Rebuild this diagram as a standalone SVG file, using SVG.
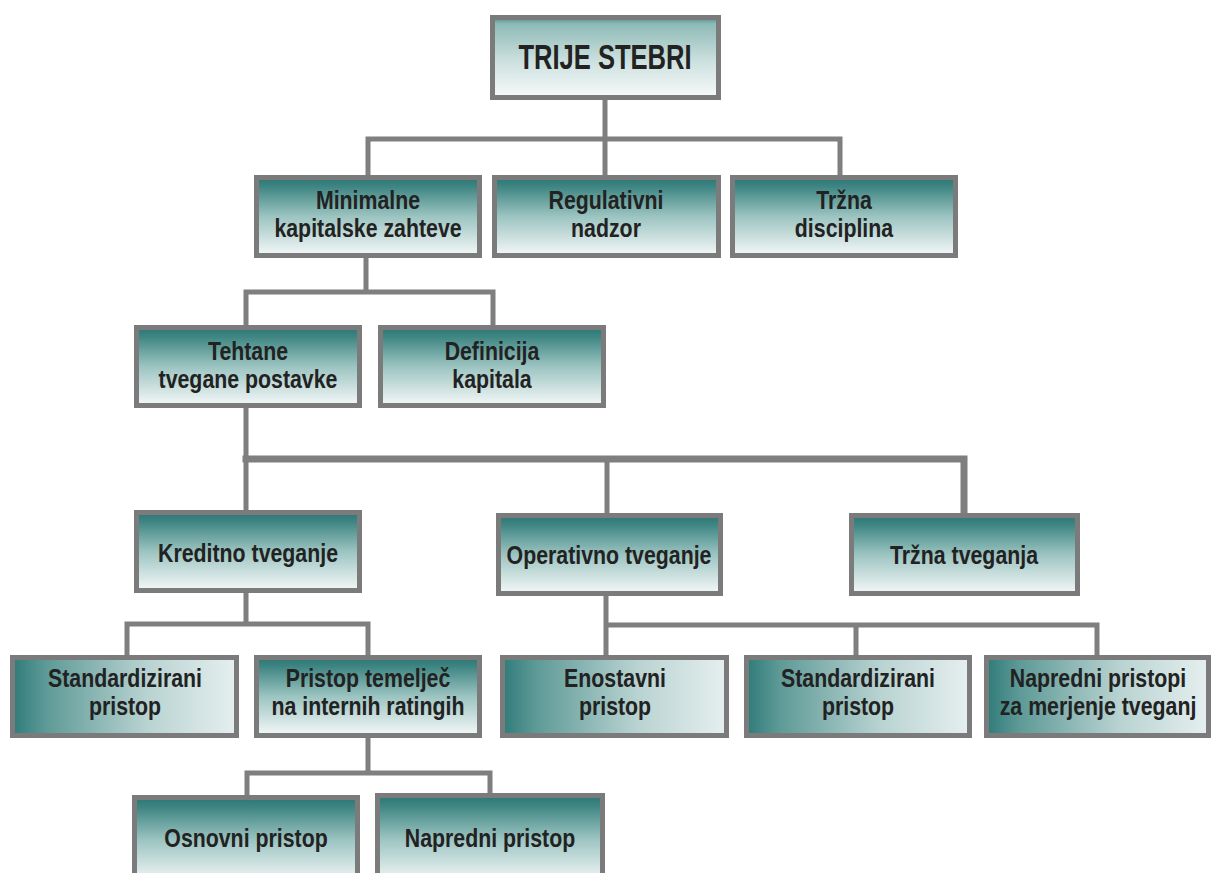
<svg xmlns="http://www.w3.org/2000/svg" width="1213" height="873" viewBox="0 0 1213 873">
<defs>
<linearGradient id="gv" x1="0" y1="0" x2="0" y2="1">
<stop offset="0" stop-color="#2c7673"/>
<stop offset="0.12" stop-color="#3f8683"/>
<stop offset="0.5" stop-color="#9cc4c1"/>
<stop offset="1" stop-color="#f4f8f8"/>
</linearGradient>
<linearGradient id="gt" x1="0" y1="0" x2="0" y2="1">
<stop offset="0" stop-color="#4f8e8a"/>
<stop offset="0.08" stop-color="#8dbab6"/>
<stop offset="0.55" stop-color="#cde1df"/>
<stop offset="1" stop-color="#f7fafa"/>
</linearGradient>
<linearGradient id="gh" x1="0" y1="0" x2="1" y2="0">
<stop offset="0" stop-color="#2f7b79"/>
<stop offset="0.15" stop-color="#5e9a97"/>
<stop offset="0.6" stop-color="#b8d3d1"/>
<stop offset="1" stop-color="#e6efef"/>
</linearGradient>
<style>
.b{stroke:#7b7b7b;stroke-width:5}
.v{fill:url(#gv)}
.h{fill:url(#gh)}
.t{fill:url(#gt)}
.c{fill:none;stroke:#7f7f7f;stroke-width:5;stroke-linejoin:miter;stroke-linecap:square}
text{font-family:"Liberation Sans",Arial,sans-serif;font-weight:bold;fill:#222;text-anchor:middle;font-size:26px}
.big{font-size:35px}
</style>
</defs>
<rect width="1213" height="873" fill="#ffffff"/>
<g id="connectors">
<path class="c" d="M605 100V139M368 175V139H840V175M605 139V175"/>
<path class="c" d="M366 258V292M246 325V292H493V325"/>
<path class="c" d="M246 408V510M607 459V513"/>
<path class="c" d="M246 459H964V513" style="stroke-width:7"/>
<path class="c" d="M246 593V624M127 655V624H368V655"/>
<path class="c" d="M606 596V655M606 625H1097V655M856 625V655"/>
<path class="c" d="M368 738V773M247 795V773H490V793"/>
</g>
<g id="n-trije"><rect class="b t" x="492.5" y="17.5" width="226" height="80"/><text class="big" transform="translate(605 69) scale(0.73 1)">TRIJE STEBRI</text></g>
<g id="n-minimalne"><rect class="b v" x="256.5" y="177.5" width="223" height="78"/><text transform="translate(368 209) scale(0.82 1)">Minimalne</text><text transform="translate(368 237) scale(0.82 1)">kapitalske zahteve</text></g>
<g id="n-regulativni"><rect class="b v" x="494.5" y="177.5" width="224" height="78"/><text transform="translate(606 209) scale(0.82 1)">Regulativni</text><text transform="translate(606 237) scale(0.82 1)">nadzor</text></g>
<g id="n-trzna-disciplina"><rect class="b v" x="732.5" y="177.5" width="223" height="78"/><text transform="translate(844 209) scale(0.82 1)">Tržna</text><text transform="translate(844 237) scale(0.82 1)">disciplina</text></g>
<g id="n-tehtane"><rect class="b v" x="136.5" y="327.5" width="223" height="78"/><text transform="translate(248 360) scale(0.82 1)">Tehtane</text><text transform="translate(248 388) scale(0.82 1)">tvegane postavke</text></g>
<g id="n-definicija"><rect class="b v" x="380.5" y="327.5" width="223" height="78"/><text transform="translate(492 360) scale(0.82 1)">Definicija</text><text transform="translate(492 388) scale(0.82 1)">kapitala</text></g>
<g id="n-kreditno"><rect class="b v" x="136.5" y="512.5" width="223" height="78"/><text transform="translate(248 562) scale(0.82 1)">Kreditno tveganje</text></g>
<g id="n-operativno"><rect class="b v" x="498.5" y="515.5" width="222" height="78"/><text transform="translate(609 564) scale(0.82 1)">Operativno tveganje</text></g>
<g id="n-trzna-tveganja"><rect class="b v" x="851.5" y="515.5" width="226" height="78"/><text transform="translate(964 564) scale(0.82 1)">Tržna tveganja</text></g>
<g id="n-standardizirani-1"><rect class="b h" x="12.5" y="657.5" width="224" height="78"/><text transform="translate(125 687) scale(0.82 1)">Standardizirani</text><text transform="translate(125 715) scale(0.82 1)">pristop</text></g>
<g id="n-pristop"><rect class="b v" x="256.5" y="657.5" width="223" height="78"/><text transform="translate(368 687) scale(0.82 1)">Pristop temelječ</text><text transform="translate(368 715) scale(0.82 1)">na internih ratingih</text></g>
<g id="n-enostavni"><rect class="b h" x="502.5" y="657.5" width="224" height="78"/><text transform="translate(615 687) scale(0.82 1)">Enostavni</text><text transform="translate(615 715) scale(0.82 1)">pristop</text></g>
<g id="n-standardizirani-2"><rect class="b h" x="746.5" y="657.5" width="223" height="78"/><text transform="translate(858 687) scale(0.82 1)">Standardizirani</text><text transform="translate(858 715) scale(0.82 1)">pristop</text></g>
<g id="n-napredni-pristopi"><rect class="b h" x="986.5" y="657.5" width="222" height="78"/><text transform="translate(1098 687) scale(0.82 1)">Napredni pristopi</text><text transform="translate(1098 715) scale(0.82 1)">za merjenje tveganj</text></g>
<g id="n-osnovni"><rect class="b v" x="134.5" y="797.5" width="223" height="85"/><text transform="translate(246 847) scale(0.82 1)">Osnovni pristop</text></g>
<g id="n-napredni-pristop"><rect class="b v" x="377.5" y="795.5" width="225" height="87"/><text transform="translate(490 847) scale(0.82 1)">Napredni pristop</text></g>
</svg>
